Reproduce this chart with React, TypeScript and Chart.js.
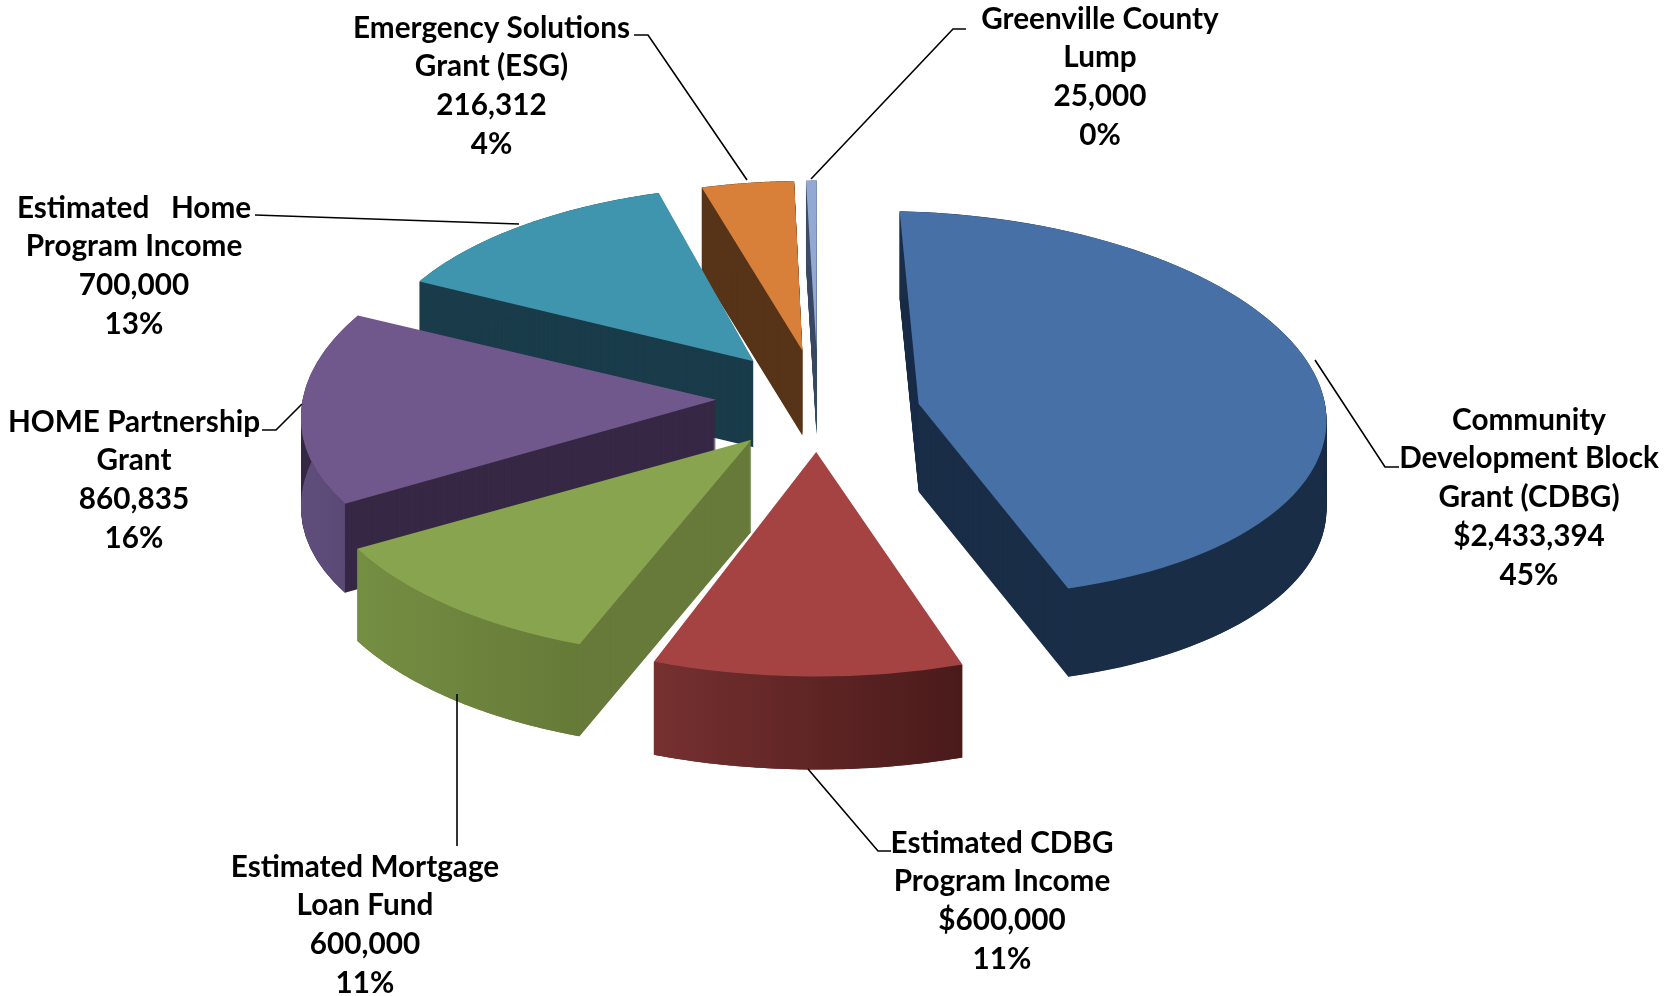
import React, { useEffect, useRef } from "react";
import { Chart, registerables } from "chart.js";

Chart.register(...registerables);

const categories = [
  "Community Development Block Grant (CDBG)",
  "Estimated CDBG Program Income",
  "Estimated Mortgage Loan Fund",
  "HOME Partnership Grant",
  "Estimated   Home Program Income",
  "Emergency Solutions Grant (ESG)",
  "Greenville County Lump",
];
const values = [2433394, 600000, 600000, 860835, 700000, 216312, 25000];
const valuePrefixes = ["$", "$", "", "", "", "", ""];
const nameLines = [
  ["Community", "Development Block", "Grant (CDBG)"],
  ["Estimated CDBG", "Program Income"],
  ["Estimated Mortgage", "Loan Fund"],
  ["HOME Partnership", "Grant"],
  ["Estimated   Home", "Program Income"],
  ["Emergency Solutions", "Grant (ESG)"],
  ["Greenville County", "Lump"],
];
const topColors = ["#4670a6", "#a54343", "#88a44e", "#71588c", "#4095ae", "#d8803a", "#93a9d2"];
const cutColors = ["#1a2d47", "#5f2424", "#677a3a", "#372845", "#1a3c4a", "#573418", "#3c4b66"];
const rimLeftColors = ["#1a2d47", "#763030", "#748e42", "#5f4e7c", "#1a3c4a", "#573418", "#3c4b66"];
const rimRightColors = ["#1a2d47", "#4a1a1a", "#667a38", "#5a4773", "#1a3c4a", "#573418", "#3c4b66"];

// layout of the callouts
const labelCentres = [
  [1529, 420], [1002, 843], [365, 867], [134, 422], [134, 208], [491.5, 28], [1100, 19],
];
const LINE_GAP = 38.9;
const leaders = [
  [[1315, 360], [1385, 467], [1399, 467]],
  [[808, 769], [878, 851], [891, 851]],
  [[457, 694], [457, 846]],
  [[302, 404], [276, 430], [262, 430]],
  [[519, 224], [255, 215]],
  [[747, 180], [648, 35], [634, 35]],
  [[811, 179], [953, 29], [966, 29]],
];

// projection of the flat pie
const HUB_X = 818;
const HUB_Y = 402;
const RADIUS = 425;
const EXPLODE = 102;
const TILT = 0.49;
const RX_BASE = 414;
const RX_PERSPECTIVE = 0.0966;
const RY_BASE = 197;
const RY_PERSPECTIVE = 0.14;
const SHEAR_X = 0.1;
const SHEAR_Y = 0.02;
const DEPTH = 89;
const DEPTH_PERSPECTIVE = 4;
const sliceDrop = [10, 0, 0, -3, -2, -2, -2];

function sliceGeometry(arc: any, index: number) {
  const h = (arc.startAngle + arc.endAngle) / 2;
  const near = Math.sin(h);
  const side = Math.cos(h);
  const rx = RX_BASE * (1 + RX_PERSPECTIVE * near);
  const ry = RY_BASE * (1 + RY_PERSPECTIVE * near);
  const a = rx / RADIUS;
  const d = ry / RADIUS;
  return {
    near,
    apexX: HUB_X + side * EXPLODE,
    apexY: HUB_Y + near * EXPLODE * TILT + sliceDrop[index],
    a,
    b: SHEAR_Y * side * side * side * a,
    c: SHEAR_X * side * d,
    d,
    depth: DEPTH + DEPTH_PERSPECTIVE * near,
  };
}

const pie3d = {
  id: "pie3d",
  beforeDatasetDraw(chart: any) {
    const ctx = chart.ctx;
    const arcs = chart.getDatasetMeta(0).data.map((arc: any, index: number) => ({ arc, index }));
    arcs.sort((p: any, q: any) => sliceGeometry(p.arc, p.index).near - sliceGeometry(q.arc, q.index).near);
    for (const { arc, index } of arcs) {
      const g = sliceGeometry(arc, index);
      const place = (dy: number) => {
        ctx.translate(g.apexX, g.apexY + dy);
        ctx.transform(g.a, g.b, g.c, g.d, 0, 0);
        ctx.translate(-arc.x, -arc.y);
      };
      const saved = arc.options;
      // extruded body with the colour of the cut faces
      arc.options = { ...saved, backgroundColor: cutColors[index] };
      for (let d = Math.round(g.depth); d > 0; d--) {
        ctx.save();
        place(d);
        arc.draw(ctx);
        ctx.restore();
      }
      arc.options = saved;
      // outer rim band
      const pts: number[][] = [];
      const steps = 80;
      for (let i = 0; i <= steps; i++) {
        const t = arc.startAngle + ((arc.endAngle - arc.startAngle) * i) / steps;
        const u = RADIUS * Math.cos(t);
        const v = RADIUS * Math.sin(t);
        pts.push([g.apexX + g.a * u + g.c * v, g.apexY + g.b * u + g.d * v]);
      }
      const xs = pts.map((p) => p[0]);
      const grad = ctx.createLinearGradient(Math.min(...xs), 0, Math.max(...xs), 0);
      grad.addColorStop(0, rimLeftColors[index]);
      grad.addColorStop(1, rimRightColors[index]);
      ctx.beginPath();
      pts.forEach((p, i) => (i ? ctx.lineTo(p[0], p[1]) : ctx.moveTo(p[0], p[1])));
      for (let i = pts.length - 1; i >= 0; i--) ctx.lineTo(pts[i][0], pts[i][1] + g.depth);
      ctx.closePath();
      ctx.fillStyle = grad;
      ctx.fill();
      // top face
      ctx.save();
      place(0);
      arc.draw(ctx);
      ctx.restore();
    }
    return false;
  },
  afterDraw(chart: any) {
    const ctx = chart.ctx;
    const total = values.reduce((a, b) => a + b, 0);
    ctx.save();
    ctx.strokeStyle = "#000";
    ctx.lineWidth = 1.6;
    for (const line of leaders) {
      ctx.beginPath();
      line.forEach((p, i) => (i ? ctx.lineTo(p[0], p[1]) : ctx.moveTo(p[0], p[1])));
      ctx.stroke();
    }
    ctx.fillStyle = "#000";
    ctx.font = "bold 29.7px Lato";
    ctx.textAlign = "center";
    ctx.textBaseline = "middle";
    values.forEach((v, i) => {
      const lines = [
        ...nameLines[i],
        valuePrefixes[i] + v.toLocaleString("en-US"),
        Math.round((v / total) * 100) + "%",
      ];
      lines.forEach((text, j) => {
        ctx.fillText(text, labelCentres[i][0], labelCentres[i][1] + j * LINE_GAP);
      });
    });
    ctx.restore();
  },
};

export default function App() {
  const ref = useRef<HTMLCanvasElement>(null);
  useEffect(() => {
    const chart = new Chart(ref.current as HTMLCanvasElement, {
      type: "pie",
      data: {
        labels: categories,
        datasets: [{ data: values, backgroundColor: topColors, borderWidth: 0, radius: RADIUS } as any],
      },
      options: {
        animation: false,
        responsive: false,
        devicePixelRatio: 1,
        plugins: { legend: { display: false }, tooltip: { enabled: false } },
      } as any,
      plugins: [pie3d as any],
    });
    return () => chart.destroy();
  }, []);
  return (
    <canvas
      ref={ref}
      width={1679}
      height={996}
      style={{ position: "absolute", left: 0, top: 0, width: 1679, height: 996, display: "block" }}
    />
  );
}
